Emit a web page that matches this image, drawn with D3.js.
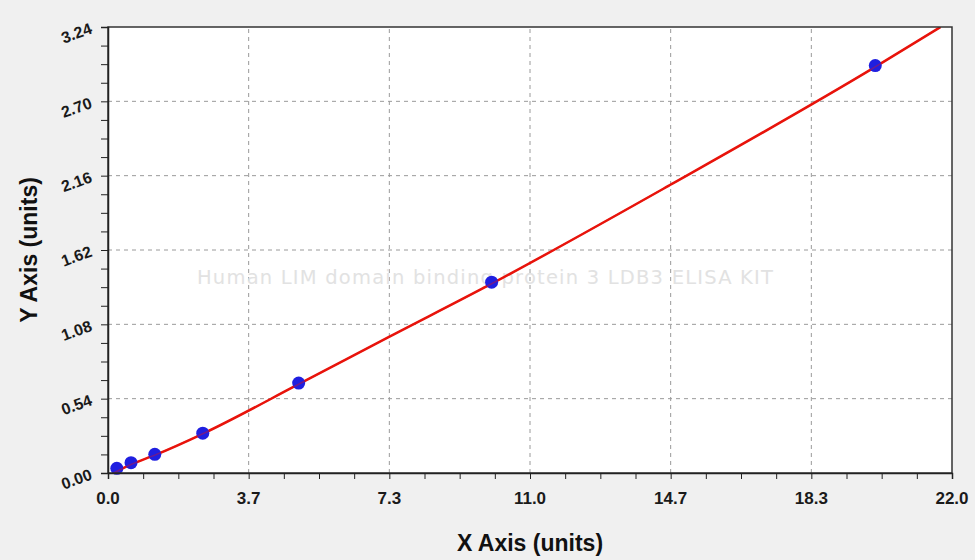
<!DOCTYPE html>
<html>
<head>
<meta charset="utf-8">
<script src="https://cdn.jsdelivr.net/npm/d3@7"></script>
<style>
  html, body { margin: 0; padding: 0; background: #f0f0f0; }
  svg { display: block; font-family: "Liberation Sans", Arial, sans-serif; }
</style>
</head>
<body>
<svg id="chart" width="975" height="560"></svg>
<script>
// standard points
const concX = [0.23, 0.6, 1.22, 2.47, 4.97, 10.0, 20.0];
const odY = [0.034, 0.075, 0.136, 0.289, 0.653, 1.386, 2.96];

// fitted curve
const fitX = [0.15, 0.6, 1.22, 2.47, 4.97, 7.3, 10.0, 14.7, 20.0, 21.7];
const fitY = [0.0, 0.062, 0.13, 0.285, 0.645, 0.985, 1.375, 2.1, 2.95, 3.24];

const xTicks = [0, 3.7, 7.3, 11.0, 14.7, 18.3, 22.0];
const yTicks = [0, 0.54, 1.08, 1.62, 2.16, 2.70, 3.24];

const watermark = "Human LIM domain binding protein 3 LDB3 ELISA KIT";

const width = 975, height = 560;
const margin = { top: 27, right: 23, bottom: 87, left: 108 };

const svg = d3.select("#chart");

const x = d3.scaleLinear()
  .domain([0, 22])
  .range([margin.left, width - margin.right]);

const y = d3.scaleLinear()
  .domain([0, 3.24])
  .range([height - margin.bottom, margin.top]);

// plot background
svg.append("rect")
  .attr("x", margin.left)
  .attr("y", margin.top)
  .attr("width", x(22) - x(0))
  .attr("height", y(0) - y(3.24))
  .attr("fill", "#fff");

// tick positions: 4 sub-intervals between labelled ticks
const xMajor = d3.range(0, 7).map(i => i * 22 / 6);
const xMinor = d3.range(0, 25).map(i => i * 22 / 24);
const yMajor = d3.range(0, 7).map(i => i * 0.54);
const yMinor = d3.range(0, 25).map(i => i * 0.135);

// grid
const grid = svg.append("g")
  .attr("stroke", "#9a9a9a")
  .attr("stroke-width", 1)
  .attr("stroke-dasharray", "4,4");

grid.selectAll(".vx")
  .data(xMajor.slice(1, -1))
  .join("line")
  .attr("x1", d => x(d)).attr("x2", d => x(d))
  .attr("y1", y(0)).attr("y2", y(3.24));

grid.selectAll(".hy")
  .data(yMajor.slice(1, -1))
  .join("line")
  .attr("x1", x(0)).attr("x2", x(22))
  .attr("y1", d => y(d)).attr("y2", d => y(d));

// watermark
svg.append("text")
  .attr("x", 197)
  .attr("y", 284)
  .attr("fill", "#e2e2e2")
  .attr("font-family", "'DejaVu Sans', sans-serif")
  .attr("font-size", 19.5)
  .attr("textLength", 576)
  .text(watermark);

// clip for the curve
svg.append("clipPath").attr("id", "clip")
  .append("rect")
  .attr("x", margin.left)
  .attr("y", margin.top)
  .attr("width", x(22) - x(0))
  .attr("height", y(0) - y(3.24));

const fit = fitX.map((d, i) => [d, fitY[i]]);
const line = d3.line()
  .x(d => x(d[0]))
  .y(d => y(d[1]))
  .curve(d3.curveMonotoneX);

svg.append("path")
  .datum(fit)
  .attr("clip-path", "url(#clip)")
  .attr("fill", "none")
  .attr("stroke", "#e8140c")
  .attr("stroke-width", 2.5)
  .attr("d", line);

// points
svg.append("g")
  .selectAll("circle")
  .data(concX.map((d, i) => [d, odY[i]]))
  .join("circle")
  .attr("cx", d => x(d[0]))
  .attr("cy", d => y(d[1]))
  .attr("r", 6.5)
  .attr("fill", "#1f1fe0");

// red line shows faintly across the points
svg.append("path")
  .datum(fit)
  .attr("clip-path", "url(#clip)")
  .attr("fill", "none")
  .attr("stroke", "#e8140c")
  .attr("stroke-opacity", 0.4)
  .attr("stroke-width", 1.5)
  .attr("d", line);

// frame
svg.append("rect")
  .attr("x", margin.left)
  .attr("y", margin.top)
  .attr("width", x(22) - x(0))
  .attr("height", y(0) - y(3.24))
  .attr("fill", "none")
  .attr("stroke", "#333")
  .attr("stroke-width", 1.5);

// x axis
const xAxis = svg.append("g")
  .attr("transform", `translate(0,${y(0)})`);

xAxis.call(d3.axisBottom(x).tickValues(xMinor).tickSize(6).tickFormat(""))
  .call(g => g.select(".domain").attr("stroke", "#222").attr("stroke-width", 1.5));
xAxis.selectAll(".tick line").attr("stroke", "#222");

svg.append("g")
  .selectAll("text")
  .data(xTicks)
  .join("text")
  .attr("x", (d, i) => x(xMajor[i]))
  .attr("y", y(0) + 31)
  .attr("text-anchor", "middle")
  .attr("font-size", 17)
  .attr("font-weight", "bold")
  .attr("fill", "#1a1a1a")
  .text(d => d.toFixed(1));

// y axis
const yAxis = svg.append("g")
  .attr("transform", `translate(${x(0)},0)`);

yAxis.call(d3.axisLeft(y).tickValues(yMinor).tickSize(7).tickFormat(""))
  .call(g => g.select(".domain").attr("stroke", "#222").attr("stroke-width", 1.5));
yAxis.selectAll(".tick line").attr("stroke", "#222");

svg.append("g")
  .selectAll("text")
  .data(yTicks)
  .join("text")
  .attr("transform", (d, i) => `translate(${x(0) - 15},${y(yMajor[i]) + 6}) rotate(-20)`)
  .attr("text-anchor", "end")
  .attr("font-size", 16)
  .attr("font-weight", "bold")
  .attr("fill", "#1a1a1a")
  .text(d => d.toFixed(2));

// axis titles
svg.append("text")
  .attr("x", 530)
  .attr("y", 551)
  .attr("text-anchor", "middle")
  .attr("font-size", 23)
  .attr("font-weight", "bold")
  .attr("fill", "#111")
  .text("X Axis (units)");

svg.append("text")
  .attr("transform", `translate(37,${250}) rotate(-90)`)
  .attr("text-anchor", "middle")
  .attr("font-size", 23)
  .attr("font-weight", "bold")
  .attr("fill", "#111")
  .text("Y Axis (units)");
</script>
</body>
</html>
